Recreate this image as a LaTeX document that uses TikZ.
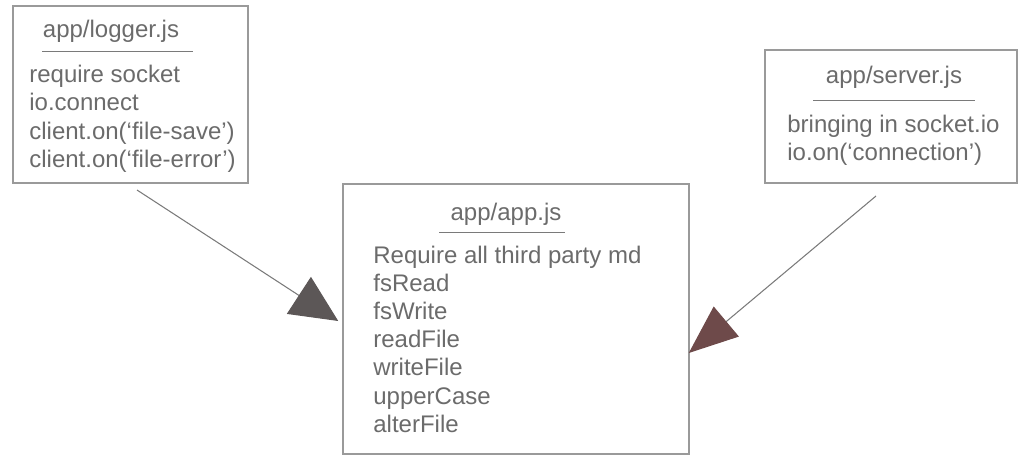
\documentclass[tikz,border=0pt]{standalone}
\usepackage{fontspec}
\setmainfont{Liberation Sans}
\usetikzlibrary{positioning,arrows.meta}
\definecolor{txtgray}{HTML}{6B6B6B}
\definecolor{boxgray}{HTML}{9A9A9A}
\definecolor{rulegray}{HTML}{7A7A7A}
\definecolor{headL}{HTML}{5C5757}
\definecolor{headR}{HTML}{6E4A4A}
\tikzset{
  box/.style={draw=boxgray,line width=0.9pt,inner sep=0pt},
  txt/.style={text=txtgray,inner sep=0pt,font=\fontsize{13.66pt}{16pt}\selectfont},
  rule/.style={draw=rulegray,line width=0.5pt},
  conn/.style={draw=rulegray,line width=0.6pt}
}

\begin{document}
\begin{tikzpicture}[x=0.02cm,y=-0.02cm]
\useasboundingbox (0,0) rectangle (1030,470);

% the three boxes
\node[box,minimum width=4.70cm,minimum height=3.54cm] (logger) at (130.5,94.5) {};
\node[box,minimum width=6.92cm,minimum height=5.40cm] (app) at (516,319) {};
\node[box,minimum width=5.04cm,minimum height=2.66cm] (server) at (891,116.5) {};

% logger box
\node[txt,anchor=base] (lgtitle) at (111,37) {app/logger.js};
\draw[rule] (42,51) -- (193,51);
\foreach \t [count=\i from 0] in {require socket,io.connect,client.on(‘file-save’),client.on(‘file-error’)}
  \node[txt,anchor=base west] (lg\i) at (29,82+28.5*\i) {\t};

% app box
\node[txt,anchor=base] (aptitle) at (506,220) {app/app.js};
\draw[rule] (439,232) -- (565,232);
\foreach \t [count=\i from 0] in {Require all third party md,fsRead,fsWrite,readFile,writeFile,upperCase,alterFile}
  \node[txt,anchor=base west] (ap\i) at (373,263+28.2*\i) {\t};

% server box
\node[txt,anchor=base] (svtitle) at (894,83) {app/server.js};
\draw[rule] (813,100) -- (975,100);
\foreach \t [count=\i from 0] in {bringing in socket.io,io.on(‘connection’)}
  \node[txt,anchor=base west] (sv\i) at (787,132+28.2*\i) {\t};

% connectors
\coordinate (lgout) at (137,190);
\coordinate (apinL) at ([xshift=-0.08cm,yshift=-0.04cm]app.west);
\coordinate (svout) at (876,196);
\coordinate (apinR) at ([xshift=-0.02cm,yshift=-0.68cm]app.east);
\draw[conn,-{Triangle[length=0.94cm,width=0.88cm,color=headL]}] (lgout) -- (apinL);
\draw[conn,-{Triangle[length=0.98cm,width=0.78cm,color=headR]}] (svout) -- (apinR);
\end{tikzpicture}
\end{document}
